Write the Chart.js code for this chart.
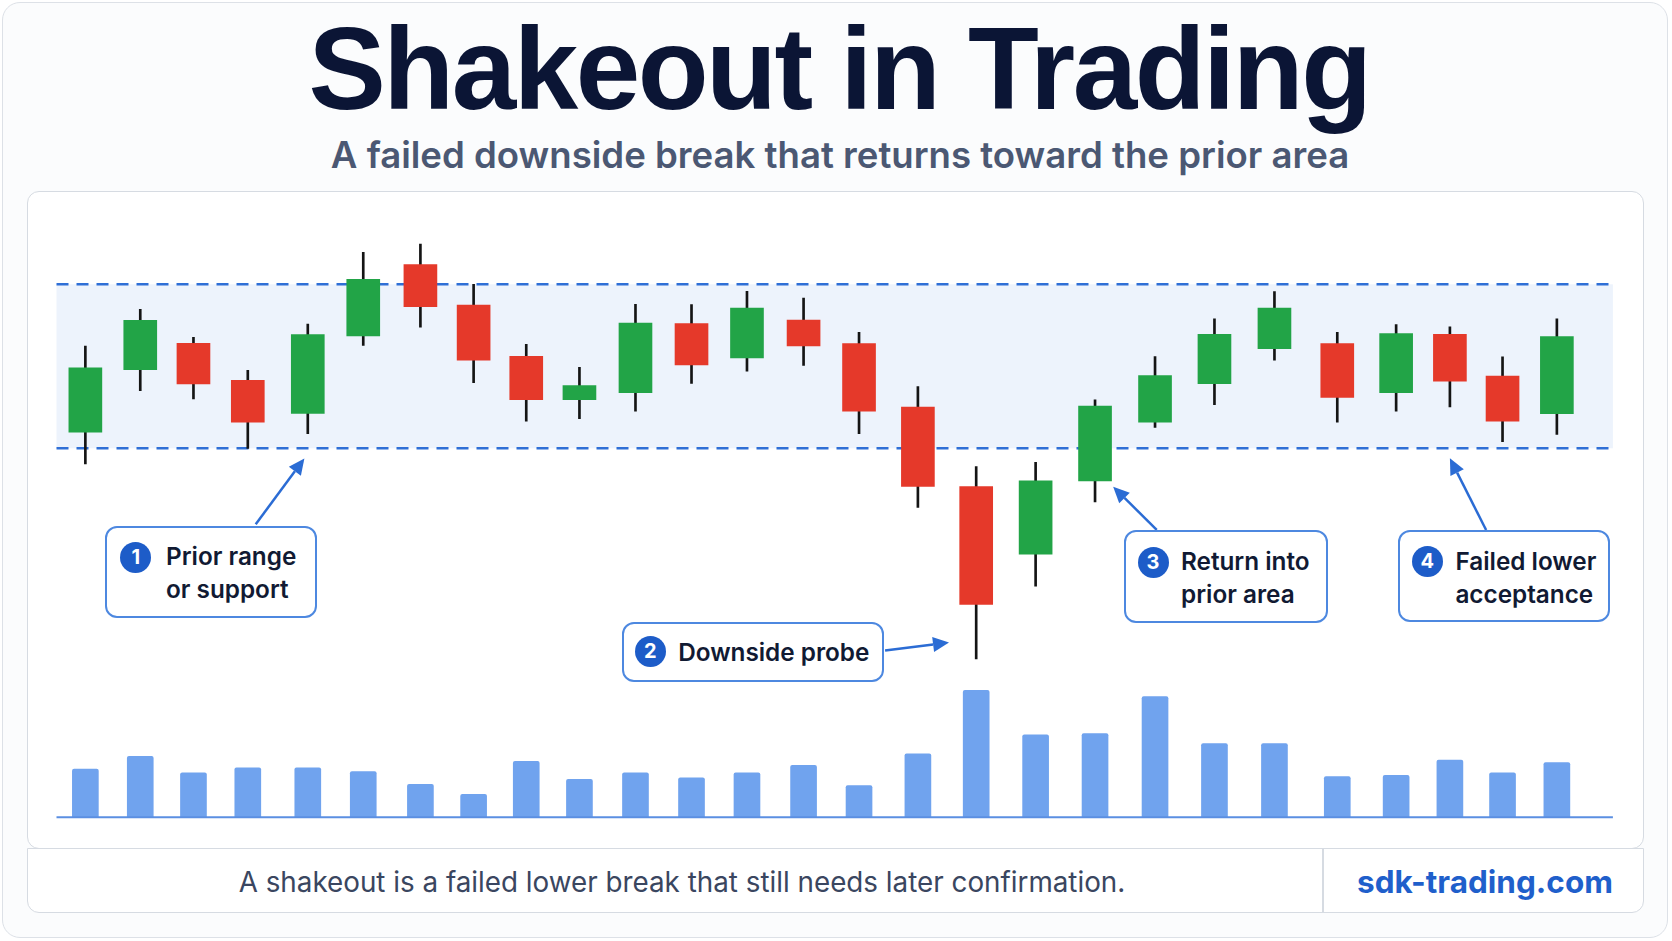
<!DOCTYPE html>
<html>
<head>
<meta charset="utf-8">
<title>Shakeout in Trading</title>
<script src="https://cdn.jsdelivr.net/npm/chart.js@4.4.1/dist/chart.umd.min.js"></script>
<style>
  html, body { margin: 0; padding: 0; background: #ffffff; }
  body { width: 1672px; height: 941px; position: relative; overflow: hidden; font-family: Inter, "Noto Sans", sans-serif; }
  #card { position: absolute; left: 2px; top: 2px; width: 1666px; height: 936px; box-sizing: border-box;
          border: 1.5px solid #dde1e7; border-radius: 18px; background: #fbfcfd; }
  #title { position: absolute; left: 3px; top: 11px; width: 1672px; text-align: center;
           font-family: "Liberation Sans", Arial, sans-serif; font-weight: 700; font-size: 116px;
           line-height: 116px; letter-spacing: -2.5px; color: #0b1535; }
  #subtitle { position: absolute; left: 4px; top: 136.8px; width: 1672px; text-align: center;
              font-weight: 600; font-size: 36.6px; line-height: 36.6px; color: #4b5873; }
  #panel { position: absolute; left: 26.7px; top: 190.7px; width: 1617px; height: 658px; box-sizing: border-box;
           border: 1.5px solid #d6dbe2; border-radius: 12px; background: #ffffff; }
  #footer { position: absolute; left: 26.7px; top: 848.3px; width: 1617px; height: 65px; box-sizing: border-box;
            border: 1.5px solid #d6dbe2; border-radius: 0 0 12px 12px; background: #ffffff; }
  #footDiv { position: absolute; left: 1322px; top: 849px; width: 1.5px; height: 64px; background: #d6dbe2; }
  #footText { position: absolute; left: 42px; top: 869px; width: 1280px; text-align: center;
              font-size: 27.8px; line-height: 27.8px; font-weight: 400; color: #3a4660; }
  #footSite { position: absolute; left: 1324px; top: 865.5px; width: 322px; text-align: center;
              font-size: 31.5px; line-height: 31.5px; font-weight: 700; color: #1f5fcb; }
  #chart { position: absolute; left: 0; top: 0; z-index: 2; }
  .callout { position: absolute; z-index: 3; box-sizing: border-box; border: 2px solid #4d88e0;
             border-radius: 12px; background: #ffffff; }
  .callout .num { position: absolute; width: 31px; height: 31px; border-radius: 50%; background: #1d5cc8;
                  color: #fff; font-weight: 700; font-size: 20px; line-height: 31px; text-align: center; }
  .callout .txt { position: absolute; font-weight: 600; font-size: 24.3px; line-height: 33px; color: #111a33; white-space: nowrap; }
</style>
</head>
<body>
<div id="card"></div>
<div id="title">Shakeout in Trading</div>
<div id="subtitle">A failed downside break that returns toward the prior area</div>
<div id="panel"></div>
<div id="footer"></div>
<div id="footDiv"></div>
<div id="footText">A shakeout is a failed lower break that still needs later confirmation.</div>
<div id="footSite">sdk-trading.com</div>

<canvas id="chart" width="1672" height="941"></canvas>

<div class="callout" style="left:105px; top:525.7px; width:212px; height:92px;">
  <div class="num" style="left:13.2px; top:14.8px;">1</div>
  <div class="txt" style="left:59px; top:12px;">Prior range<br>or support</div>
</div>
<div class="callout" style="left:621.6px; top:621.7px; width:262.4px; height:60px;">
  <div class="num" style="left:11.3px; top:12.3px;">2</div>
  <div class="txt" style="left:54.6px; top:12.7px;">Downside probe</div>
</div>
<div class="callout" style="left:1123.5px; top:530px; width:204px; height:92.5px;">
  <div class="num" style="left:12px; top:14.8px;">3</div>
  <div class="txt" style="left:55.5px; top:12.7px;">Return into<br>prior area</div>
</div>
<div class="callout" style="left:1398px; top:530px; width:212px; height:92.3px;">
  <div class="num" style="left:11.8px; top:14.2px;">4</div>
  <div class="txt" style="left:55.4px; top:12.7px;">Failed lower<br>acceptance</div>
</div>

<script>
// session time of each bar (sessions are not evenly spaced in the source)
var TIME  = [1.01,1.98,2.92,3.88,4.94,5.92,6.93,7.87,8.80,9.74,10.73,11.72,12.70,13.70,14.68,15.72,16.75,17.80,18.85,19.91,20.96,22.02,23.13,24.17,25.12,26.05,27.01];
var OPEN  = [100.98,104.79,106.40,104.15,102.13,106.85,111.20,108.74,105.61,102.96,103.39,107.60,105.51,107.82,106.38,102.52,97.67,93.55,98.01,101.60,103.94,106.07,106.38,103.39,106.95,104.41,102.11];
var HIGH  = [106.24,108.48,106.77,104.76,107.58,111.95,112.46,110.00,106.34,104.94,108.78,108.76,109.57,109.16,107.07,103.76,98.89,99.15,102.95,105.59,107.90,109.55,107.07,107.54,107.41,105.57,107.90];
var LOW   = [99.04,103.51,103.01,100.00,100.89,106.28,107.38,104.00,101.65,101.80,102.26,103.96,104.70,105.06,100.89,96.39,87.15,91.60,96.73,101.28,102.66,105.37,101.60,102.26,102.52,100.40,100.85];
var CLOSE = [104.91,107.80,103.92,101.59,106.93,110.30,108.63,105.38,102.96,103.82,107.64,105.08,108.55,106.24,102.27,97.67,90.48,98.02,102.58,104.43,106.95,108.55,103.11,106.99,104.09,101.65,106.81];
var VOLUME = [38,48,35,39,39,36,26,18,44,30,35,31,35,41,25,50,100,65,66,95,58,58,32,33,45,35,43];

// prior range (support zone)
var RANGE_TOP = 110;
var RANGE_BOTTOM = 100;

// arrows: from callout box to the chart, in time / price units
var ARROWS = [
  {from: [4.02, 95.37],  to: [4.88, 99.38]},
  {from: [15.14, 87.67], to: [16.27, 88.16]},
  {from: [19.94, 95.02], to: [19.17, 97.66]},
  {from: [25.76, 95.02], to: [25.12, 99.39]}
];

var UP = '#22a447', DOWN = '#e5392a';

function candleColor(i) {
  return CLOSE[i] >= OPEN[i] ? UP : DOWN;
}

var rangeBand = {
  id: 'rangeBand',
  beforeDatasetsDraw: function(chart) {
    var ctx = chart.ctx, a = chart.chartArea, y = chart.scales.y;
    var top = y.getPixelForValue(RANGE_TOP), bot = y.getPixelForValue(RANGE_BOTTOM);
    ctx.save();
    ctx.fillStyle = '#edf3fc';
    ctx.fillRect(a.left, top, a.right - a.left, bot - top);
    ctx.strokeStyle = '#2f6fd6';
    ctx.lineWidth = 2.5;
    ctx.setLineDash([12, 8]);
    [top, bot].forEach(function(py) {
      ctx.beginPath();
      ctx.moveTo(a.left, py);
      ctx.lineTo(a.right, py);
      ctx.stroke();
    });
    ctx.restore();
  },
  afterDatasetsDraw: function(chart) {
    var ctx = chart.ctx, a = chart.chartArea, x = chart.scales.x, y = chart.scales.y;
    ctx.save();
    // volume baseline
    ctx.strokeStyle = '#5b8fe2';
    ctx.lineWidth = 2;
    ctx.beginPath();
    ctx.moveTo(a.left, a.bottom);
    ctx.lineTo(a.right, a.bottom);
    ctx.stroke();
    // callout arrows
    ctx.strokeStyle = '#2b6cd4';
    ctx.fillStyle = '#2b6cd4';
    ctx.lineWidth = 2.5;
    ARROWS.forEach(function(ar) {
      var x1 = x.getPixelForValue(ar.from[0]), y1 = y.getPixelForValue(ar.from[1]);
      var x2 = x.getPixelForValue(ar.to[0]), y2 = y.getPixelForValue(ar.to[1]);
      var ang = Math.atan2(y2 - y1, x2 - x1), len = 16, w = 7.5;
      var bx = x2 - len * Math.cos(ang), by = y2 - len * Math.sin(ang);
      ctx.beginPath();
      ctx.moveTo(x1, y1);
      ctx.lineTo(bx, by);
      ctx.stroke();
      ctx.beginPath();
      ctx.moveTo(x2, y2);
      ctx.lineTo(bx + w * Math.sin(ang), by - w * Math.cos(ang));
      ctx.lineTo(bx - w * Math.sin(ang), by + w * Math.cos(ang));
      ctx.closePath();
      ctx.fill();
    });
    ctx.restore();
  }
};

new Chart(document.getElementById('chart'), {
  type: 'bar',
  data: {
    datasets: [
      {
        label: 'body',
        order: 1,
        grouped: false,
        barThickness: 33,
        data: TIME.map(function(t, i) { return {x: t, y: [OPEN[i], CLOSE[i]]}; }),
        backgroundColor: TIME.map(function(t, i) { return candleColor(i); }),
        borderWidth: 0
      },
      {
        label: 'wick',
        order: 2,
        grouped: false,
        barThickness: 2,
        data: TIME.map(function(t, i) { return {x: t, y: [LOW[i], HIGH[i]]}; }),
        backgroundColor: '#141414',
        borderWidth: 0
      },
      {
        label: 'volume',
        order: 3,
        grouped: false,
        yAxisID: 'vol',
        barThickness: 26,
        data: TIME.map(function(t, i) { return {x: t, y: VOLUME[i]}; }),
        backgroundColor: '#70a3ee',
        borderRadius: {topLeft: 2, topRight: 2},
        borderSkipped: 'bottom',
        borderWidth: 0
      }
    ]
  },
  options: {
    responsive: false,
    animation: false,
    devicePixelRatio: 1,
    layout: { padding: { left: 56.5, right: 59.1, top: 226.9, bottom: 123.7 } },
    plugins: { legend: { display: false }, tooltip: { enabled: false } },
    scales: {
      x: { type: 'linear', min: 0.5, max: 28, offset: false, display: false },
      y: { min: 77.5, max: 113.5, display: false },
      vol: { min: 0, max: 465, display: false }
    }
  },
  plugins: [rangeBand]
});
</script>
</body>
</html>
